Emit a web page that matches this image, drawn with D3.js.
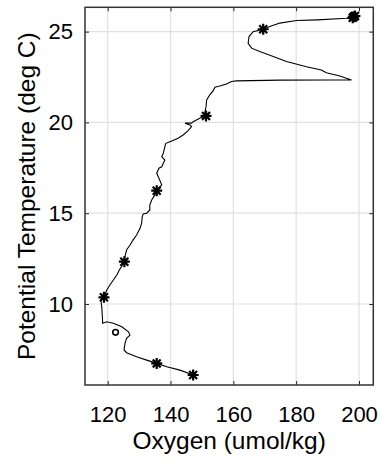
<!DOCTYPE html>
<html><head><meta charset="utf-8">
<script src="https://cdn.jsdelivr.net/npm/d3@7"></script>
<style>body{margin:0;background:#fff}svg{display:block}text{font-family:"Liberation Sans",Arial,sans-serif;fill:#000}</style>
</head><body><div id="c"></div>
<script>
// Profile line: oxygen (umol/kg) and potential temperature (deg C)
const oxygen = [198.1,196.0,186.8,180.1,174.8,171.6,169.5,166.3,165.0,164.7,165.8,168.4,172.7,176.9,183.3,188.0,189.6,193.9,197.6,190.7,174.8,161.0,159.4,157.8,155.7,154.1,153.6,152.5,151.5,151.3,150.9,151.3,149.3,147.2,146.7,144.6,146.2,146.7,145.6,144.0,142.4,139.8,138.5,138.2,137.7,137.2,138.2,137.7,137.2,136.3,135.6,136.1,137.2,136.1,135.6,135.0,134.0,133.4,133.4,132.4,131.3,131.0,130.8,130.3,129.2,128.1,127.1,126.0,125.5,125.3,124.5,123.7,122.9,121.8,120.7,119.7,118.8,117.8,118.1,118.3,118.4,119.7,121.8,124.5,126.6,127.1,126.0,125.5,125.2,126.0,129.2,132.4,135.6,138.8,143.0,147.2];
const theta = [25.80,25.74,25.65,25.61,25.47,25.28,25.13,25.00,24.73,24.36,24.09,23.90,23.63,23.35,23.07,22.89,22.74,22.56,22.34,22.34,22.33,22.29,22.25,22.12,22.01,21.94,21.75,21.52,21.24,20.87,20.51,20.36,20.23,20.04,19.96,19.96,19.86,19.77,19.55,19.31,19.13,18.94,18.85,18.67,18.30,18.12,17.93,17.75,17.56,17.48,17.20,17.01,16.56,16.37,16.24,16.01,15.73,15.45,15.18,15.00,14.96,14.81,14.45,14.17,13.80,13.53,13.25,12.98,12.61,12.33,12.09,11.87,11.60,11.32,11.05,10.77,10.37,10.22,9.85,9.30,8.94,9.02,8.94,8.75,8.47,8.29,8.11,7.83,7.47,7.32,7.10,6.91,6.73,6.55,6.36,6.09];
// Star markers
const starOxygen = [198.0,198.7,198.3,169.5,151.3,135.6,125.3,118.8,135.6,147.2];
const starTheta  = [25.76,25.86,25.82,25.13,20.36,16.24,12.33,10.37,6.73,6.09];
// Circle marker
const circOxygen = [122.5];
const circTheta  = [8.44];
// Ticks
const xTicks = [120,140,160,180,200];
const yTicks = [10,15,20,25];
const xDomain = [112.77,204.55];
const yDomain = [5.54,26.34];

const W=382,H=462;
const m={l:85,t:7.3,r:382-373.3,b:462-385};
const svg=d3.select("#c").append("svg").attr("width",W).attr("height",H);
const x=d3.scaleLinear().domain(xDomain).range([m.l,W-m.r]);
const y=d3.scaleLinear().domain(yDomain).range([H-m.b,m.t]);
const g=svg.append("g");
// grid
g.selectAll(".gx").data(xTicks).join("line").attr("x1",d=>x(d)).attr("x2",d=>x(d)).attr("y1",y.range()[0]).attr("y2",y.range()[1]).attr("stroke","#e0e0e0").attr("stroke-width",1.2);
g.selectAll(".gy").data(yTicks).join("line").attr("y1",d=>y(d)).attr("y2",d=>y(d)).attr("x1",x.range()[0]).attr("x2",x.range()[1]).attr("stroke","#e0e0e0").attr("stroke-width",1.2);
// axes (ticks inside)
const fmt=d3.format("d");
const ax=svg.append("g").attr("transform",`translate(0,${H-m.b})`).call(d3.axisBottom(x).tickValues(xTicks).tickSize(-4).tickPadding(21).tickFormat(fmt));
const axT=svg.append("g").attr("transform",`translate(0,${m.t})`).call(d3.axisTop(x).tickValues(xTicks).tickSize(-4).tickFormat(""));
const ay=svg.append("g").attr("transform",`translate(${m.l},0)`).call(d3.axisLeft(y).tickValues(yTicks).tickSize(-4).tickPadding(12).tickFormat(fmt));
const ayR=svg.append("g").attr("transform",`translate(${W-m.r},0)`).call(d3.axisRight(y).tickValues(yTicks).tickSize(-4).tickFormat(""));
[ax,axT,ay,ayR].forEach(a=>{a.select(".domain").remove();a.selectAll(".tick line").attr("stroke","#262626").attr("stroke-width",1);a.selectAll("text").style("font-size","22px").attr("fill","#000").style("font-family","Liberation Sans, Arial, sans-serif");});
// frame
svg.append("rect").attr("x",m.l).attr("y",m.t).attr("width",W-m.r-m.l).attr("height",H-m.b-m.t).attr("fill","none").attr("stroke","#333").attr("stroke-width",1.5);
// line
svg.append("path").datum(oxygen.map((v,i)=>[v,theta[i]])).attr("d",d3.line().x(d=>x(d[0])).y(d=>y(d[1]))).attr("fill","none").attr("stroke","#000").attr("stroke-width",1.1);
// stars
const s=5.5;
const starPath=`M${-s},0L${s},0M0,${-s}L0,${s}M${-s*0.72},${-s*0.72}L${s*0.72},${s*0.72}M${-s*0.72},${s*0.72}L${s*0.72},${-s*0.72}`;
svg.selectAll(".st").data(starOxygen.map((v,i)=>[v,starTheta[i]])).join("path").attr("transform",d=>`translate(${x(d[0])},${y(d[1])})`).attr("d",starPath).attr("stroke","#000").attr("stroke-width",2.2).attr("fill","none");
svg.selectAll(".ci").data(circOxygen.map((v,i)=>[v,circTheta[i]])).join("circle").attr("cx",d=>x(d[0])).attr("cy",d=>y(d[1])).attr("r",2.8).attr("fill","none").attr("stroke","#000").attr("stroke-width",1.6);
// labels
svg.append("text").attr("x",(m.l+W-m.r)/2).attr("y",449).attr("text-anchor","middle").style("font-size","24.5px").text("Oxygen (umol/kg)");
svg.append("text").attr("transform",`translate(35,${(m.t+H-m.b)/2}) rotate(-90)`).attr("text-anchor","middle").style("font-size","24.5px").text("Potential Temperature (deg C)");
</script></body></html>
